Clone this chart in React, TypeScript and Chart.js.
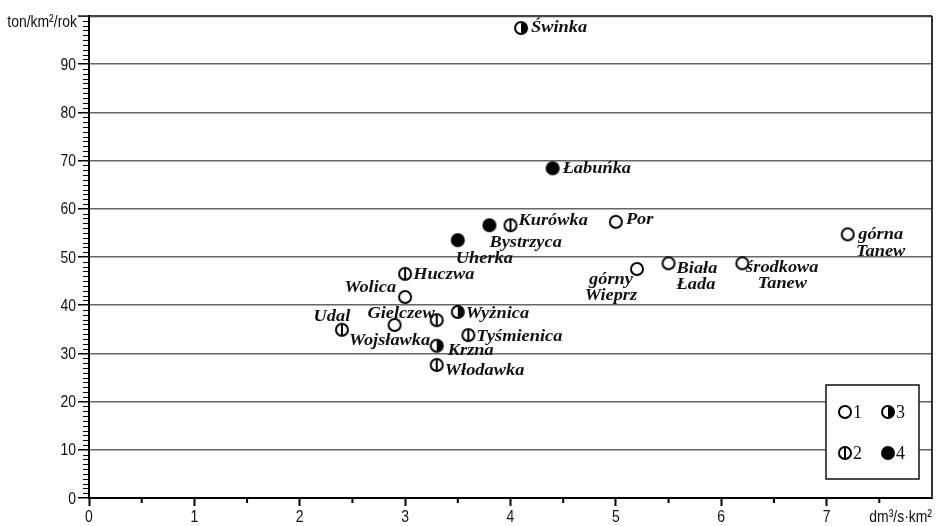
import React, { useEffect, useRef } from 'react';
import { Chart, registerables } from 'chart.js';

Chart.register(...registerables);

// ---- data ----
const riverNames = [
  'Świnka', 'Łabuńka', 'Kurówka', 'Bystrzyca', 'Uherka', 'Por',
  'górna|Tanew', 'górny|Wieprz', 'Biała|Łada', 'środkowa|Tanew',
  'Huczwa', 'Wolica', 'Udal', 'Wojsławka', 'Gielczew', 'Wyżnica',
  'Tyśmienica', 'Krzna', 'Włodawka',
];
const runoffValues = [
  4.1, 4.4, 4.0, 3.8, 3.5, 5.0,
  7.2, 5.2, 5.5, 6.2,
  3.0, 3.0, 2.4, 2.9, 3.3, 3.5,
  3.6, 3.3, 3.3,
];
const denudationValues = [
  97.5, 68.4, 56.6, 56.6, 53.5, 57.3,
  54.7, 47.5, 48.7, 48.7,
  46.5, 41.7, 34.9, 35.9, 36.9, 38.6,
  33.8, 31.6, 27.6,
];
const markerGroups = [
  3, 4, 2, 4, 4, 1,
  1, 1, 1, 1,
  2, 1, 2, 1, 2, 3,
  2, 3, 2,
];
const legendLabels = ['1', '2', '3', '4'];
const xTickLabels = ['0', '1', '2', '3', '4', '5', '6', '7'];
const yTickLabels = ['0', '10', '20', '30', '40', '50', '60', '70', '80', '90'];
const yAxisTitle = 'ton/km²/rok';
const xAxisTitle = 'dm³/s·km²';

// label placement (offset from point, alignment, line height)
const labelPlacement: [number, number, CanvasTextAlign, number][] = [
  [10, 0, 'left', 16], [10, 0, 'left', 16], [8, -5, 'left', 16], [0, 17, 'left', 16],
  [-2, 18, 'left', 16], [10, -2, 'left', 16],
  [33, 0, 'center', 17], [-26, 11, 'center', 16], [8, 5, 'left', 16], [40, 4, 'center', 16],
  [8, 1, 'left', 16], [-9, -9, 'right', 16], [-10, -13, 'center', 16], [-5, 16, 'center', 16],
  [-2, -7, 'right', 16], [8, 2, 'left', 16],
  [8, 2, 'left', 16], [11, 5, 'left', 16], [8, 6, 'left', 16],
];

const SANS = '"Liberation Sans", Arial, sans-serif';
const SERIF = '"Liberation Serif", "Times New Roman", serif';

function scaledText(ctx: CanvasRenderingContext2D, text: string, x: number, y: number, sx: number) {
  ctx.save();
  ctx.translate(x, y);
  ctx.scale(sx, 1);
  ctx.fillText(text, 0, 0);
  ctx.restore();
}

function makeMarker(type: number): HTMLCanvasElement {
  const c = document.createElement('canvas');
  c.width = 16;
  c.height = 16;
  const g = c.getContext('2d')!;
  const cx = 8, cy = 8, r = 6;
  g.lineWidth = 2;
  g.strokeStyle = '#000';
  g.beginPath();
  g.arc(cx, cy, r, 0, Math.PI * 2);
  g.fillStyle = type === 4 ? '#000' : '#fff';
  g.fill();
  if (type === 3) {
    g.beginPath();
    g.moveTo(cx, cy - r);
    g.arc(cx, cy, r, -Math.PI / 2, Math.PI / 2);
    g.closePath();
    g.fillStyle = '#000';
    g.fill();
  }
  if (type === 2) {
    g.beginPath();
    g.moveTo(cx, cy - r);
    g.lineTo(cx, cy + r);
    g.stroke();
  }
  g.beginPath();
  g.arc(cx, cy, r, 0, Math.PI * 2);
  g.stroke();
  return c;
}

export default function App() {
  const ref = useRef<HTMLCanvasElement | null>(null);

  useEffect(() => {
    document.body.style.margin = '0';
    const canvas = ref.current!;
    const markers = [1, 2, 3, 4].map(makeMarker);

    const datasets = [1, 2, 3, 4].map((g) => {
      const idx = markerGroups.map((m, i) => (m === g ? i : -1)).filter((i) => i >= 0);
      return {
        label: legendLabels[g - 1],
        data: idx.map((i) => ({ x: runoffValues[i], y: denudationValues[i], idx: i })),
        pointStyle: markers[g - 1],
        pointRadius: 7,
        showLine: false,
      };
    });

    const extras = {
      id: 'extras',
      afterDatasetsDraw(chart: any) {
        const ctx = chart.ctx as CanvasRenderingContext2D;
        ctx.save();
        ctx.fillStyle = '#111';
        ctx.font = `italic bold 17px ${SERIF}`;
        ctx.textBaseline = 'middle';
        chart.data.datasets.forEach((ds: any, di: number) => {
          const meta = chart.getDatasetMeta(di);
          ds.data.forEach((p: any, pi: number) => {
            const el = meta.data[pi];
            const [dx, dy, align, lh] = labelPlacement[p.idx];
            ctx.textAlign = align;
            riverNames[p.idx].split('|').forEach((line, li) => {
              scaledText(ctx, line, el.x + dx, el.y + dy + li * lh, 1.08);
            });
          });
        });
        ctx.restore();
      },
      afterDraw(chart: any) {
        const ctx = chart.ctx as CanvasRenderingContext2D;
        const { left, right, top, bottom } = chart.chartArea;
        const xs = chart.scales.x;
        const ys = chart.scales.y;
        ctx.save();
        // right border
        ctx.strokeStyle = '#333';
        ctx.lineWidth = 2;
        ctx.beginPath();
        ctx.moveTo(right, top);
        ctx.lineTo(right, bottom);
        ctx.stroke();
        // minor ticks
        ctx.strokeStyle = '#000';
        ctx.lineWidth = 1.2;
        ctx.beginPath();
        for (let v = 1; v < 100; v++) {
          if (v % 10 === 0) continue;
          const y = Math.round(ys.getPixelForValue(v)) + 0.5;
          ctx.moveTo(left - 6, y);
          ctx.lineTo(left + 1, y);
        }
        ctx.stroke();
        ctx.lineWidth = 2;
        ctx.beginPath();
        for (let v = 0.5; v < 8; v += 1) {
          const x = xs.getPixelForValue(v);
          ctx.moveTo(x, bottom);
          ctx.lineTo(x, bottom + 5);
        }
        ctx.stroke();
        // tick labels and axis titles (narrow sans)
        ctx.fillStyle = '#111';
        ctx.font = `17px ${SANS}`;
        ctx.textBaseline = 'middle';
        ctx.textAlign = 'right';
        yTickLabels.forEach((t) => {
          scaledText(ctx, t, left - 13, ys.getPixelForValue(Number(t)) + 1, 0.82);
        });
        ctx.textAlign = 'center';
        xTickLabels.forEach((t) => {
          scaledText(ctx, t, xs.getPixelForValue(Number(t)), bottom + 19, 0.82);
        });
        ctx.textAlign = 'right';
        scaledText(ctx, yAxisTitle, left - 12, top + 6, 0.82);
        scaledText(ctx, xAxisTitle, right, bottom + 19, 0.82);
        // legend box
        const bx = 826, by = 385, bw = 93, bh = 94;
        ctx.fillStyle = '#fff';
        ctx.fillRect(bx, by, bw, bh);
        ctx.strokeStyle = '#111';
        ctx.lineWidth = 1.5;
        ctx.strokeRect(bx, by, bw, bh);
        ctx.font = `18px ${SERIF}`;
        ctx.textAlign = 'left';
        ctx.fillStyle = '#111';
        const pos = [
          [bx + 19, by + 27], [bx + 19, by + 68], [bx + 62, by + 27], [bx + 62, by + 68],
        ];
        legendLabels.forEach((lab, i) => {
          const [cx, cy] = pos[i];
          ctx.drawImage(markers[i], cx - 8, cy - 8);
          ctx.fillText(lab, cx + 8, cy + 1);
        });
        ctx.restore();
      },
    };

    const chart = new Chart(canvas, {
      type: 'scatter',
      data: { datasets } as any,
      options: {
        animation: false,
        responsive: false,
        devicePixelRatio: 1,
        layout: { padding: { top: 16, right: 1, left: 0, bottom: 0 } },
        plugins: { legend: { display: false }, tooltip: { enabled: false } },
        scales: {
          x: {
            type: 'linear',
            min: 0,
            max: 8,
            ticks: { stepSize: 1, autoSkip: false, display: false },
            grid: {
              drawOnChartArea: false,
              tickLength: 8,
              tickColor: (c: any) => (c.tick && c.tick.value === 8 ? 'rgba(0,0,0,0)' : '#000'),
              tickWidth: 2,
            },
            border: { color: '#000', width: 2 },
            afterFit: (s: any) => { s.height = 28; },
          },
          y: {
            type: 'linear',
            min: 0,
            max: 100,
            ticks: { stepSize: 10, display: false },
            grid: {
              color: (c: any) => (c.tick && c.tick.value === 100 ? '#444' : '#666'),
              lineWidth: (c: any) => (c.tick && c.tick.value === 100 ? 2.2 : 1.5),
              tickLength: 11,
              tickColor: '#000',
              tickWidth: 1.5,
            },
            border: { color: '#000', width: 2 },
            afterFit: (s: any) => { s.width = 89; },
          },
        },
      },
      plugins: [extras],
    } as any);

    return () => chart.destroy();
  }, []);

  return <canvas ref={ref} width={940} height={526} style={{ display: 'block' }} />;
}
